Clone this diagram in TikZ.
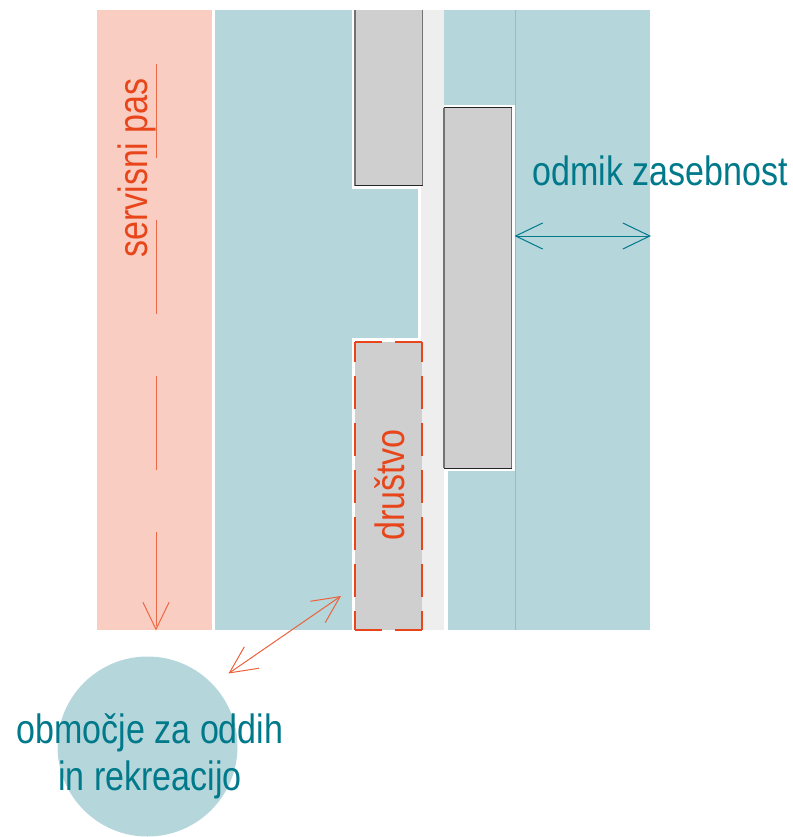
\documentclass[tikz,border=0pt]{standalone}
\usepackage{fontspec}
\setmainfont{Liberation Sans}
\usepackage{tikz}
\usetikzlibrary{arrows.meta, positioning}

\definecolor{planteal}{HTML}{B5D6DB}
\definecolor{planpink}{HTML}{FACDC2}
\definecolor{plangray}{HTML}{CFCFCF}
\definecolor{planroad}{HTML}{EEEEEE}
\definecolor{planline}{HTML}{8FBFC9}
\definecolor{labelteal}{HTML}{00798A}
\definecolor{labelorange}{HTML}{E8461A}

\begin{document}
\begin{tikzpicture}[
            x=1pt, y=-1pt,
            planlabel/.style={inner sep=0pt, font=\fontsize{41}{47}\selectfont, align=center},
            teallabel/.style={planlabel, xscale=0.83, text=labelteal},
            orangelabel/.style={planlabel, rotate=90, xscale=0.83, text=labelorange},
            barbs/.style={{Straight Barb[length=27pt, width=26pt]}-{Straight Barb[length=27pt, width=26pt]}},
            downbarb/.style={-{Straight Barb[length=27pt, width=26pt]}},
            sideline/.style={draw=black!55, line width=1.2pt},
            endline/.style={draw=black!85, line width=1pt},
            societydash/.style={draw=labelorange, line width=2.4pt},
            ]
            \useasboundingbox (0,0) rectangle (792,837);

            \fill[planpink] (97,10) rectangle (212,630);
            \fill[planteal] (215,10) rectangle (650,630);
            \fill[planteal] (147.5,746.5) circle (90);
            \draw[planline, line width=1pt] (515,10) -- (515,630);

            \fill[planroad] (421,10) rectangle (444,630);
            \fill[white] (444,471) rectangle (448,630);
            \fill[white] (418,189) rectangle (421,338);
            \fill[white] (352,10) rectangle (421,189);
            \fill[white] (352,338) rectangle (421,630);
            \fill[white] (444,105) rectangle (514.5,471);

            \fill[plangray] (355,10) rectangle (422.5,185.5);
            \draw[sideline] (355,10) -- (355,185.5);
            \draw[sideline] (422.5,10) -- (422.5,185.5);
            \draw[endline] (355,185.5) -- (422.5,185.5);

            \fill[plangray] (444,108) rectangle (511.5,468);
            \draw[sideline] (444,108) -- (444,468);
            \draw[sideline] (511.5,108) -- (511.5,468);
            \draw[endline] (444,108) -- (511.5,108);
            \draw[endline] (444,468) -- (511.5,468);

            \fill[plangray] (355,342) rectangle (422,630);
            \coordinate (snw) at (355,342);
            \coordinate (sne) at (422,342);
            \coordinate (ssw) at (355,630);
            \coordinate (sse) at (422,630);
            \draw[societydash, dash pattern=on 33pt off 14pt, dash phase=13pt] (snw) -- (ssw);
            \draw[societydash, dash pattern=on 33pt off 14pt, dash phase=13pt] (sne) -- (sse);
            \draw[societydash, dash pattern=on 27pt off 13pt] (snw) -- (sne);
            \draw[societydash, dash pattern=on 27pt off 13pt] (ssw) -- (sse);

            \node[orangelabel] (servisni) at (137,168) {servisni pas};
            \node[orangelabel] (drustvo)  at (390,485) {društvo};
            \node[teallabel] (odmik) at (660,171) {odmik zasebnost};
            \node[teallabel] (oddih) at (150,756) {območje za oddih\\in rekreacijo};

            \coordinate (passtart) at (156,64);
            \coordinate (pasend)   at (156,630.5);
            \coordinate (odmikl)   at (514.5,236);
            \coordinate (odmikr)   at (651,236);
            \coordinate (oddihend) at (228.5,673.5);
            \coordinate (drustvoend) at (341,596);

            \draw[downbarb, draw=labelorange!75!planpink, line width=1pt, dash pattern=on 94pt off 62pt] (passtart) -- (pasend);
            \draw[barbs, draw=labelteal, line width=1pt] (odmikl) -- (odmikr);
            \draw[barbs, draw=labelorange!85!white, line width=1pt] (oddihend) -- (drustvoend);
        \end{tikzpicture}
\end{document}
